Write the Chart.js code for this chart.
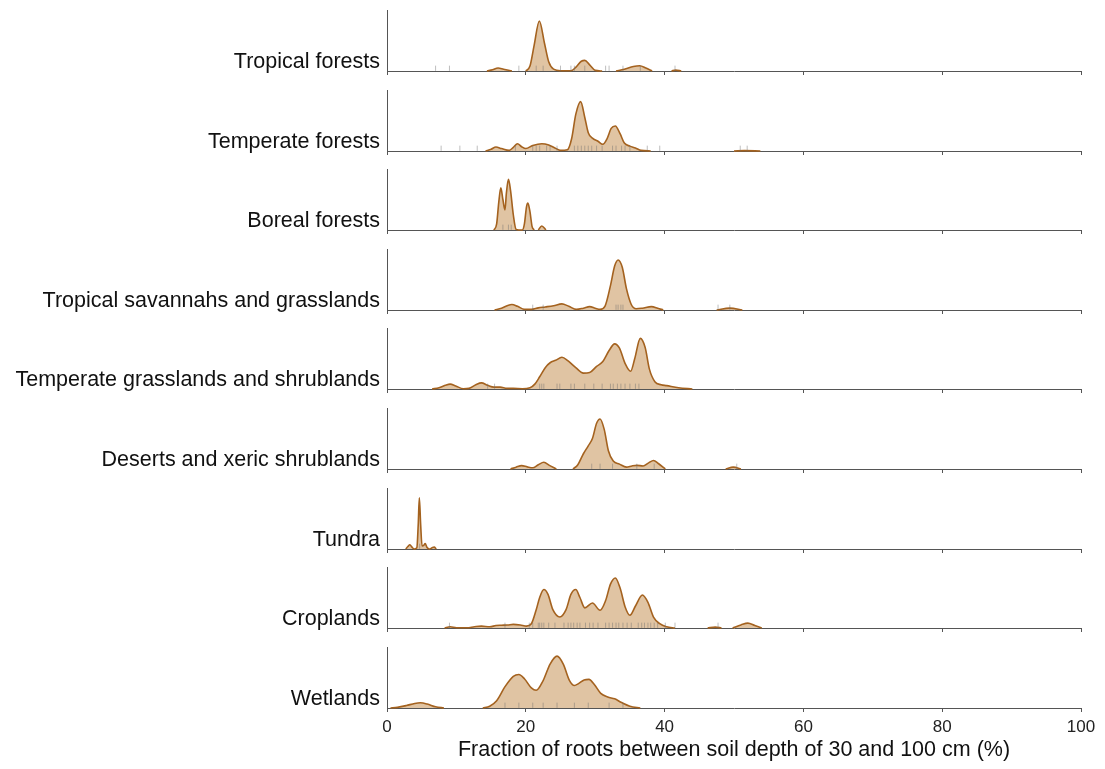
<!DOCTYPE html>
<html>
<head>
<meta charset="utf-8">
<title>Root fraction by biome</title>
<script src="https://cdn.jsdelivr.net/npm/chart.js@4.4.1/dist/chart.umd.min.js"></script>
<style>
  body { margin: 0; background: #fff; }
  #ridges { position: relative; width: 1105px; height: 769px; }
  #ridges canvas { position: absolute; left: 0; }
</style>
</head>
<body>
<div id="ridges"></div>
<script>
// Biome names, top to bottom
const biomes = [
    'Tropical forests', 'Temperate forests', 'Boreal forests',
    'Tropical savannahs and grasslands', 'Temperate grasslands and shrublands',
    'Deserts and xeric shrublands', 'Tundra', 'Croplands', 'Wetlands'
];

const xTicks = [0, 20, 40, 60, 80, 100];
const xTitle = 'Fraction of roots between soil depth of 30 and 100 cm (%)';

// Density curves: [fraction (%), relative density], 1 = top of the panel.
// A null density splits the curve where it sits on the baseline.
const tropicalForests = [[14.4,0],[15.2,0.02],[16,0.05],[16.8,0.03],[18,0],[19,null],[20,0],[20.6,0.08],[21.2,0.42],[21.95,0.82],[22.7,0.45],[23.3,0.15],[24,0.03],[25,0.005],[26.5,0.005],[27.2,0.06],[28,0.16],[28.5,0.175],[29.2,0.1],[30,0.01],[31,0],[32,null],[33,0],[34.2,0.03],[35.5,0.075],[36.4,0.087],[37.3,0.05],[38.2,0],[39,null],[41,0],[41.6,0.015],[42.4,0]];
const temperateForests = [[14.2,0],[15,0.03],[15.7,0.066],[16.5,0.04],[17.6,0.01],[18.2,0.06],[18.8,0.12],[19.4,0.07],[20,0.04],[21,0.09],[22.3,0.12],[23.3,0.1],[24.2,0.05],[25,0.01],[26,0.02],[26.6,0.2],[27.2,0.6],[27.9,0.81],[28.5,0.55],[29,0.3],[29.6,0.21],[30.4,0.16],[31.1,0.11],[31.7,0.2],[32.3,0.37],[32.9,0.41],[33.6,0.28],[34.2,0.13],[35,0.08],[35.8,0.05],[36.6,0.01],[38,0],[40,null],[50,0],[51.5,0.006],[53.8,0]];
const borealForests = [[15.4,0],[15.8,0.1],[16.1,0.45],[16.4,0.69],[16.7,0.5],[17,0.33],[17.2,0.6],[17.5,0.83],[17.8,0.65],[18.2,0.25],[18.6,0.01],[19,0],[19.5,0],[19.8,0.1],[20.1,0.38],[20.3,0.44],[20.6,0.3],[20.9,0.06],[21.2,0],[21.5,null],[21.8,0],[22.3,0.066],[22.9,0]];
const tropicalSavannahs = [[15.5,0],[16.5,0.03],[17.3,0.07],[18,0.09],[18.8,0.06],[19.8,0.01],[20.8,0.01],[21.8,0.035],[22.8,0.05],[24,0.07],[25.2,0.1],[26.2,0.06],[27.3,0.01],[28.3,0.03],[29.2,0.055],[30,0.03],[30.7,0.01],[31.4,0.06],[32.2,0.4],[32.8,0.72],[33.3,0.82],[33.9,0.7],[34.5,0.35],[35.2,0.09],[35.9,0.02],[36.8,0.03],[38.1,0.055],[39,0.03],[39.8,0],[43,null],[47.5,0],[49.4,0.03],[51.2,0]];
const temperateGrasslands = [[6.5,0],[7.5,0.02],[8.4,0.06],[9.1,0.08],[9.9,0.05],[11,0.005],[11.8,0.01],[12.8,0.07],[13.6,0.1],[14.5,0.06],[15.4,0.03],[16.3,0.03],[17.3,0.01],[18.2,0.01],[19.5,0.005],[20.6,0.02],[21.3,0.08],[22,0.2],[22.8,0.35],[23.5,0.43],[24.3,0.47],[25.2,0.52],[26.1,0.46],[27.2,0.35],[28.3,0.26],[29.2,0.27],[30.2,0.37],[31.1,0.45],[32,0.63],[32.8,0.74],[33.5,0.67],[34.3,0.42],[35.1,0.29],[35.7,0.5],[36.5,0.83],[37.2,0.68],[37.8,0.33],[38.6,0.12],[39.5,0.07],[40.3,0.055],[42,0.02],[44,0]];
const desertsXeric = [[17.8,0],[18.6,0.03],[19.4,0.055],[20.2,0.035],[21,0.02],[21.8,0.07],[22.6,0.11],[23.4,0.06],[24.4,0],[25.5,null],[26.8,0],[27.5,0.07],[28.3,0.25],[29,0.38],[29.6,0.5],[30.2,0.75],[30.7,0.82],[31.3,0.65],[31.9,0.3],[32.6,0.13],[33.5,0.08],[34.5,0.03],[35.3,0.05],[36,0.06],[36.9,0.05],[37.7,0.1],[38.4,0.14],[39.1,0.09],[40.1,0],[45,null],[48.8,0],[49.9,0.03],[51,0]];
const tundra = [[2.7,0],[3,0.04],[3.3,0.07],[3.6,0.03],[3.9,0],[4.3,0.02],[4.5,0.4],[4.66,0.84],[4.85,0.4],[5.05,0.05],[5.3,0.06],[5.5,0.09],[5.75,0.03],[6.1,0],[6.5,0.02],[6.8,0.03],[7.1,0]];
const croplands = [[8.3,0],[9.1,0.02],[10,0.005],[11.5,0.005],[12.6,0.02],[13.6,0.03],[14.8,0.02],[15.7,0.04],[16.5,0.045],[17.4,0.05],[18.2,0.06],[19.2,0.05],[20.1,0.03],[20.8,0.07],[21.5,0.3],[22,0.5],[22.6,0.63],[23.2,0.55],[23.9,0.3],[24.9,0.18],[25.8,0.3],[26.5,0.55],[27.2,0.63],[27.8,0.5],[28.5,0.33],[29.6,0.41],[30.7,0.29],[31.5,0.45],[32.2,0.72],[32.9,0.82],[33.6,0.65],[34.3,0.35],[35,0.21],[35.8,0.36],[36.8,0.54],[37.6,0.42],[38.4,0.18],[39.3,0.07],[40.3,0.02],[41.5,0],[44,null],[46.2,0],[47.3,0.015],[48.2,0],[49,null],[49.8,0],[51,0.05],[52,0.08],[53,0.04],[54,0]];
const wetlands = [[0.5,0],[1.5,0.01],[2.8,0.04],[4,0.075],[4.8,0.085],[5.8,0.065],[7,0.02],[8.2,0],[10,null],[13.8,0],[14.8,0.03],[15.8,0.12],[17,0.35],[18.2,0.52],[19,0.55],[19.8,0.48],[20.8,0.33],[21.5,0.29],[22.5,0.45],[23.5,0.72],[24.5,0.85],[25.4,0.72],[26.3,0.45],[27,0.37],[27.6,0.4],[28.4,0.46],[29.1,0.47],[29.9,0.38],[30.8,0.24],[31.8,0.18],[32.8,0.15],[33.8,0.09],[35,0.03],[36.5,0]];

// Individual observations shown as rug ticks along each baseline
const tropicalForestsRug = [7, 9, 19, 21.5, 22.5, 25, 26.5, 27, 28.5, 31.5, 32, 34, 36.5, 41.5];
const temperateForestsRug = [7.8, 10.5, 13, 18.5, 21, 21.5, 22, 23, 23.5, 24.5, 27, 27.5, 28, 28.5, 29, 29.5, 30.2, 31, 32.5, 33, 33.8, 34.3, 35, 37.5, 39.3, 50.9, 51.9];
const borealForestsRug = [16.7, 17.5, 17.9];
const tropicalSavannahsRug = [21, 22.5, 33, 33.3, 33.7, 34, 47.7, 49.4];
const temperateGrasslandsRug = [14.5, 15.5, 22, 22.3, 22.6, 24.5, 24.9, 26.5, 27, 28.5, 29.8, 31, 32.2, 32.6, 33.2, 33.7, 34.3, 35, 35.8, 36.3];
const desertsXericRug = [29.5, 30.7, 32.5, 36, 38.5, 50.4];
const tundraRug = [4.7];
const croplandsRug = [9, 17, 20.5, 21, 21.8, 22, 22.3, 22.6, 23.3, 24.2, 25.5, 26.1, 26.5, 26.9, 27.4, 27.8, 28.6, 29.2, 29.7, 30.4, 31.5, 32, 32.5, 33, 33.4, 34, 34.6, 35.2, 36.2, 36.7, 37.1, 37.6, 38, 38.5, 39, 40.1, 41.5, 47.7];
const wetlandsRug = [17, 19, 21, 22.5, 24.5, 27, 29, 32, 34];

const curves = [tropicalForests, temperateForests, borealForests, tropicalSavannahs,
    temperateGrasslands, desertsXeric, tundra, croplands, wetlands];
const rugs = [tropicalForestsRug, temperateForestsRug, borealForestsRug, tropicalSavannahsRug,
    temperateGrasslandsRug, desertsXericRug, tundraRug, croplandsRug, wetlandsRug];

Chart.defaults.font.family = '"Liberation Sans", Arial, sans-serif';
Chart.defaults.animation = false;

const axisColor = '#555';
const panelTops = [0, 80, 159, 239, 318, 398, 478, 557, 637];
const holder = document.getElementById('ridges');

biomes.forEach((name, i) => {
    const last = i === biomes.length - 1;
    const canvas = document.createElement('canvas');
    canvas.width = 1105;
    canvas.height = last ? 130 : 80;
    canvas.style.top = panelTops[i] + 'px';
    holder.appendChild(canvas);

    new Chart(canvas, {
        type: 'line',
        data: {
            datasets: [
                {
                    // rug ticks, drawn above the filled curve
                    data: rugs[i].map(v => ({ x: v, y: 0.045 })),
                    showLine: false,
                    pointStyle: 'line',
                    rotation: 90,
                    radius: 2.6,
                    borderWidth: 1,
                    borderColor: 'rgba(110,110,110,0.45)',
                    order: 0
                },
                {
                    data: curves[i].map(p => ({ x: p[0], y: p[1] })),
                    borderColor: '#a4621f',
                    borderWidth: 1.6,
                    backgroundColor: 'rgb(224,196,163)',
                    fill: 'origin',
                    spanGaps: false,
                    pointRadius: 0,
                    cubicInterpolationMode: 'monotone',
                    clip: false,
                    order: 1
                }
            ]
        },
        options: {
            responsive: false,
            events: [],
            layout: { padding: { top: 10, right: 24, left: 0, bottom: 0 } },
            plugins: { legend: { display: false }, tooltip: { enabled: false } },
            scales: {
                x: {
                    type: 'linear',
                    min: 0,
                    max: 100,
                    afterBuildTicks: s => { s.ticks = xTicks.map(v => ({ value: v })); },
                    afterFit: s => {
                        s.height = last ? 59 : 9;
                        s.paddingLeft = 0;
                        s.paddingRight = 0;
                    },
                    grid: { drawOnChartArea: false, drawTicks: true, tickLength: 4, color: axisColor },
                    border: { color: axisColor, width: 1 },
                    ticks: {
                        display: last,
                        color: '#222',
                        font: { size: 17 },
                        padding: 5,
                        maxRotation: 0
                    },
                    title: {
                        display: last,
                        text: xTitle,
                        color: '#111',
                        font: { size: 21.5 },
                        padding: { top: 2, bottom: 4 }
                    }
                },
                y: {
                    min: 0,
                    max: 1,
                    // one tick carries the biome name next to the baseline
                    afterBuildTicks: s => { s.ticks = [{ value: 0.14 }]; },
                    afterFit: s => {
                        s.width = 387;
                        s.paddingTop = 0;
                        s.paddingBottom = 0;
                    },
                    grid: { display: false, drawTicks: false },
                    border: { display: true, color: axisColor, width: 1 },
                    ticks: {
                        callback: () => name,
                        color: '#111',
                        font: { size: 21.5 },
                        padding: 7
                    }
                }
            }
        }
    });
});
</script>
</body>
</html>
